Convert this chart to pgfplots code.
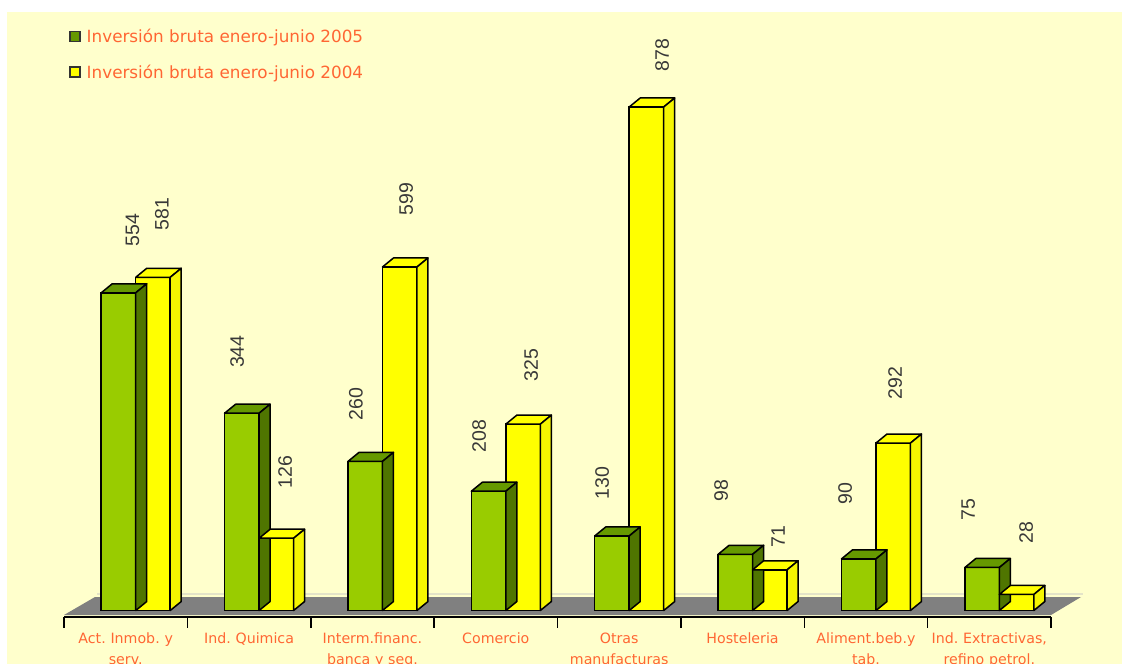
\documentclass[border=0pt]{standalone}
\usepackage{fontspec}
\setmainfont{DejaVu Sans}
\newfontfamily\valfamily{Liberation Sans}
\usepackage{graphicx}
\usepackage{pgfplots}
\pgfplotsset{compat=1.18}
\usepackage{pgfplotstable}
\definecolor{bgyellow}{HTML}{FFFFCC}
\definecolor{greenfront}{HTML}{99CC00}
\definecolor{greentop}{HTML}{669900}
\definecolor{greenside}{HTML}{4F7500}
\definecolor{yellowfront}{HTML}{FFFF00}
\definecolor{yellowtop}{HTML}{FFFF00}
\definecolor{yellowside}{HTML}{F5F500}
\definecolor{floorgray}{HTML}{808080}
\definecolor{labelorange}{HTML}{FF6633}
\definecolor{valgray}{HTML}{383838}
\definecolor{wallline}{HTML}{E4E4C8}
\newcommand\legfont{\fontsize{16.8}{20}\selectfont}
\newcommand\tickfont{\fontsize{14.2}{21}\selectfont}
\newcommand\valfont{\valfamily\fontsize{19.5}{22}\selectfont}
\pgfdeclareplotmark{nothing}{}
\pgfplotsset{
  faces/.style n args={3}{%
    forget plot, scatter, only marks, mark=nothing,
    visualization depends on={rawy \as \rawyval},
    scatter/@pre marker code/.code={%
      \pgfmathsetmacro\hh{\rawyval*0.5735}%
      \pgfmathsetmacro\fL{#1-17.25}%
      \pgfmathsetmacro\fR{#1+17.25}%
      \pgfmathsetmacro\fLL{\fL+11}%
      \pgfmathsetmacro\fRR{\fR+11}%
      \pgfmathsetmacro\fB{9-\hh}%
      \filldraw[fill=#2, draw=black, line width=1.5pt, line join=round]
        (\fL pt,0pt) -- (\fR pt,0pt) -- (\fRR pt,9pt) -- (\fLL pt,9pt) -- cycle;
      \filldraw[fill=#3, draw=black, line width=1.5pt, line join=round]
        (\fR pt,0pt) -- (\fRR pt,9pt) -- (\fRR pt,\fB pt) -- (\fR pt,-\hh pt) -- cycle;
    },
    scatter/@post marker code/.code={},
  },
  frontbar/.style n args={4}{%
    ybar, bar width=34.5pt, bar shift=#1pt, fill=#2, draw=black, line width=1.5pt,
    visualization depends on={\thisrow{#3} \as \ldx},
    visualization depends on={\thisrow{#4} \as \ldy},
    nodes near coords={\pgfmathprintnumber[assume math mode=true]{\pgfplotspointmeta}},
    every node near coord/.append style={font=\valfont, text=valgray,
      xshift=\ldx pt, yshift=\ldy pt, rotate=90, anchor=center, inner sep=0pt},
  },
}
\pgfplotstableread{
x g y gdx gdy ydx ydy
0 554 581 6.8 63 36.2 63.5
1 344 126 -11.9 61.5 36.1 66.5
2 260 599 -16.6 57.5 33.7 68
3 208 325 -16.6 55 35.4 59
4 130 878 -17 53 43 52
5 98 71 -21.4 64 35.6 33
6 90 292 -20.8 65 29.2 60
7 75 28 -21.1 58 36.9 62
}\datatable
\begin{document}
\frenchspacing
\begin{tikzpicture}
\fill[white] (0,0) rectangle (1122pt,664pt);
\fill[bgyellow] (7pt,0) rectangle (1122pt,652pt);
\begin{axis}[
  x=123.375pt, y=0.5735pt,
  at={(64pt,47pt)}, anchor=south west,
  xmin=-0.5, xmax=7.5, ymin=-11.33, ymax=1012,
  clip=false,
  axis x line*=bottom,
  axis y line=none,
  ytick=\empty,
  x axis line style={black, line width=1.5pt, -},
  xtick={0,...,7},
  xticklabels={{Act. Inmob. y\\serv.},{Ind. Quimica},{Interm.financ.\\banca y seg.},{Comercio},{Otras\\manufacturas},{Hosteleria},{Aliment.beb.y\\tab.},{Ind. Extractivas,\\refino petrol.}},
  major tick length=0pt,
  minor xtick={-0.5,0.5,...,7.5},
  minor tick length=11pt,
  tick align=outside,
  minor x tick style={black, line width=1.5pt},
  xticklabel style={font=\tickfont, text=labelorange, align=center, text width=140pt, anchor=north, inner sep=0pt, yshift=-16pt},
  legend style={at={(axis description cs:0,1)}, anchor=north west, xshift=5pt, yshift=1.5pt,
    draw=none, fill=none, inner sep=0pt, font=\legfont, text=labelorange,
    row sep=21pt, column sep=6pt, nodes={inner sep=0pt}, cells={anchor=west}},
]
\fill[floorgray] (axis cs:-0.5,-7.85) -- (axis cs:7.5,-7.85) -- ([shift={(30pt,18pt)}]axis cs:7.5,-7.85) -- ([shift={(31pt,18pt)}]axis cs:-0.5,-7.85) -- cycle;
\draw[wallline, line width=2pt] ([shift={(33pt,21pt)}]axis cs:-0.5,-7.85) -- ([shift={(32pt,21pt)}]axis cs:7.5,-7.85);
\addplot[frontbar={-7.2}{greenfront}{gdx}{gdy},
  legend image code/.code={\filldraw[fill=greentop, draw=black!80, line width=1.5pt] (0pt,-5pt) rectangle (10pt,5pt);}]
  table[x=x, y=g] {\datatable};
\addlegendentry{Inversión bruta enero-junio 2005}
\addplot[faces={-7.2}{greentop}{greenside}] table[x=x, y=g] {\datatable};
\addplot[frontbar={27.3}{yellowfront}{ydx}{ydy},
  legend image code/.code={\filldraw[fill=yellowfront, draw=black!80, line width=1.5pt] (0pt,-5pt) rectangle (10pt,5pt);}]
  table[x=x, y=y] {\datatable};
\addlegendentry{Inversión bruta enero-junio 2004}
\addplot[faces={27.3}{yellowtop}{yellowside}] table[x=x, y=y] {\datatable};
\end{axis}
\pgfresetboundingbox
\useasboundingbox (0,0) rectangle (1122pt,664pt);
\end{tikzpicture}
\end{document}
